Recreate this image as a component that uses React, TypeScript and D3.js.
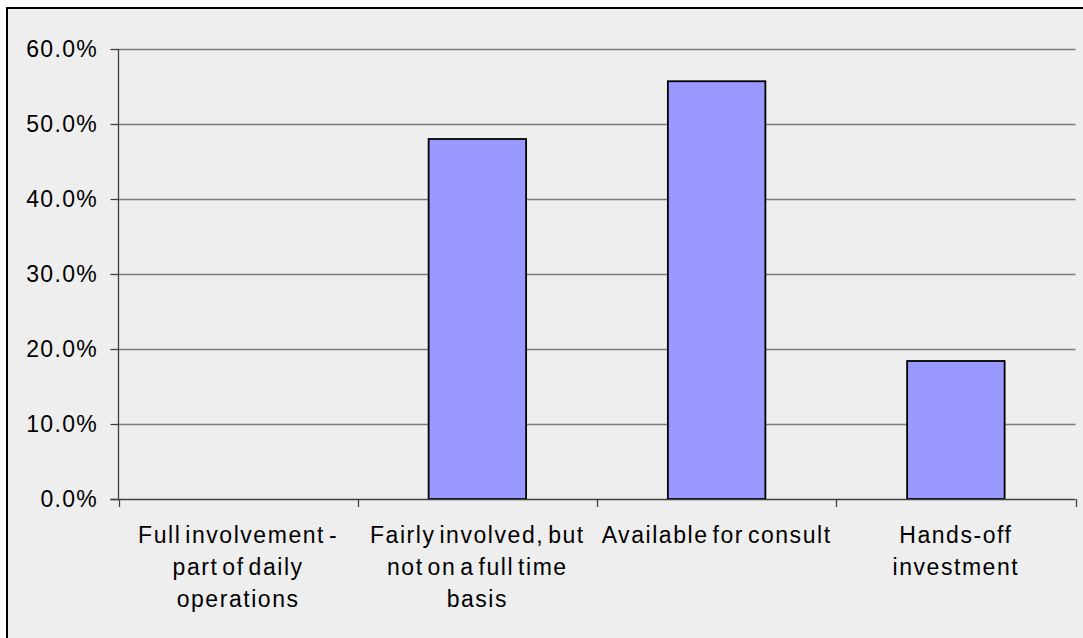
import React, { useEffect, useRef } from "react";
import * as d3 from "d3";

// Share of respondents by level of involvement
const categoryLines: string[][] = [
  ["Full involvement -", "part of daily", "operations"],
  ["Fairly involved, but", "not on a full time", "basis"],
  ["Available for consult"],
  ["Hands-off", "investment"],
];
const values: number[] = [0, 0.48, 0.557, 0.184];
const yTicks: number[] = [0, 0.1, 0.2, 0.3, 0.4, 0.5, 0.6];

const W = 1083;
const H = 638;
const FONT = "'Liberation Sans', Arial, Helvetica, sans-serif";

export default function App() {
  const ref = useRef<SVGSVGElement>(null);

  useEffect(() => {
    const svg = d3.select(ref.current);
    svg.selectAll("*").remove();

    const left = 118.5;
    const right = 1075.5;
    const top = 49;
    const bottom = 499;

    // chart frame (runs past the bottom/right of the view)
    svg
      .append("rect")
      .attr("x", 7)
      .attr("y", 8)
      .attr("width", W + 20)
      .attr("height", H + 20)
      .attr("fill", "#eeeeee")
      .attr("stroke", "#000")
      .attr("stroke-width", 2);

    const ids = categoryLines.map((_, i) => String(i));
    const x = d3
      .scaleBand<string>()
      .domain(ids)
      .range([left, right])
      .paddingInner(0.5925)
      .paddingOuter(0.5925 / 2);
    const step = x.step();

    const y = d3.scaleLinear().domain([0, 0.6]).range([bottom, top]);

    // horizontal gridlines
    svg
      .append("g")
      .selectAll("line")
      .data(yTicks.filter((t) => t > 0))
      .join("line")
      .attr("x1", left)
      .attr("x2", right)
      .attr("y1", (d) => Math.round(y(d)) + 0.5)
      .attr("y2", (d) => Math.round(y(d)) + 0.5)
      .attr("stroke", "#7a7a7a")
      .attr("stroke-width", 1.3);

    // y tick marks and labels
    const yg = svg.append("g");
    yg.selectAll("line")
      .data(yTicks)
      .join("line")
      .attr("x1", left - 8)
      .attr("x2", left)
      .attr("y1", (d) => Math.round(y(d)) + 0.5)
      .attr("y2", (d) => Math.round(y(d)) + 0.5)
      .attr("stroke", "#404040")
      .attr("stroke-width", 1.3);
    yg.selectAll("text")
      .data(yTicks)
      .join("text")
      .attr("x", 98)
      .attr("y", (d) => y(d))
      .attr("dy", "0.35em")
      .attr("text-anchor", "end")
      .attr("font-family", FONT)
      .attr("font-size", 23)
      .attr("letter-spacing", 1.3)
      .attr("fill", "#000")
      .text((d) => d3.format(".1%")(d));

    // bars
    svg
      .append("g")
      .selectAll("rect")
      .data(values)
      .join("rect")
      .attr("x", (_, i) => x(ids[i])!)
      .attr("y", (d) => y(d))
      .attr("width", x.bandwidth())
      .attr("height", (d) => bottom - y(d))
      .attr("fill", "#9999ff")
      .attr("stroke", "#000")
      .attr("stroke-width", 1.8)
      .style("display", (d) => (d > 0 ? null : "none"));

    // axes
    svg
      .append("line")
      .attr("x1", left)
      .attr("x2", left)
      .attr("y1", top)
      .attr("y2", bottom)
      .attr("stroke", "#404040")
      .attr("stroke-width", 1.3);
    svg
      .append("line")
      .attr("x1", left - 8)
      .attr("x2", right)
      .attr("y1", bottom + 0.5)
      .attr("y2", bottom + 0.5)
      .attr("stroke", "#404040")
      .attr("stroke-width", 1.3);

    // category boundary ticks
    const bounds = d3.range(categoryLines.length + 1).map((i) => left + i * step);
    svg
      .append("g")
      .selectAll("line")
      .data(bounds)
      .join("line")
      .attr("x1", (d) => Math.round(d) + 0.5)
      .attr("x2", (d) => Math.round(d) + 0.5)
      .attr("y1", bottom)
      .attr("y2", bottom + 8)
      .attr("stroke", "#404040")
      .attr("stroke-width", 1.3);

    // category labels
    const lg = svg.append("g");
    categoryLines.forEach((lines, i) => {
      const cx = x(ids[i])! + x.bandwidth() / 2;
      const t = lg
        .append("text")
        .attr("text-anchor", "middle")
        .attr("font-family", FONT)
        .attr("font-size", 23)
        .attr("letter-spacing", 1.55)
        .attr("word-spacing", -4)
        .attr("fill", "#000");
      lines.forEach((ln, j) => {
        t.append("tspan")
          .attr("x", cx)
          .attr("y", bottom + 44 + j * 32)
          .text(ln);
      });
    });
  }, []);

  return (
    <svg
      ref={ref}
      width={W}
      height={H}
      style={{ position: "absolute", left: 0, top: 0, display: "block", background: "#fff" }}
    />
  );
}
